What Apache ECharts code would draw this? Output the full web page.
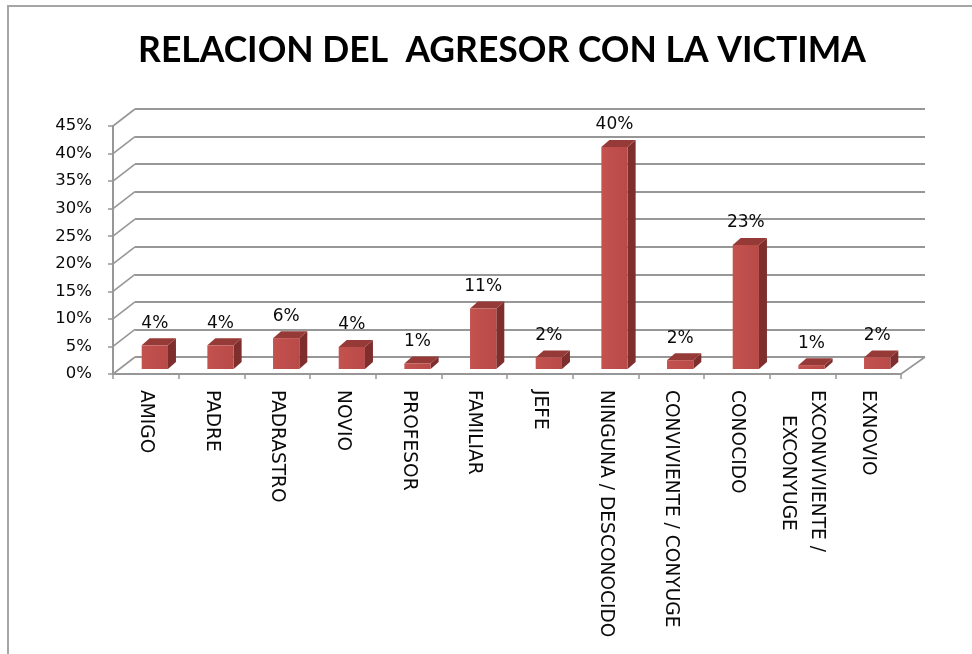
<!DOCTYPE html>
<html>
<head>
<meta charset="utf-8">
<script src="https://cdn.jsdelivr.net/npm/echarts@6/dist/echarts.min.js"></script>
<style>html,body{margin:0;padding:0;background:#fff}#c{width:972px;height:654px}</style>
</head>
<body>
<div id="c"></div>
<script>
var titleText = 'RELACION DEL  AGRESOR CON LA VICTIMA';
var categories = ['AMIGO','PADRE','PADRASTRO','NOVIO','PROFESOR','FAMILIAR','JEFE','NINGUNA / DESCONOCIDO','CONVIVIENTE / CONYUGE','CONOCIDO','EXCONVIVIENTE /\nEXCONYUGE','EXNOVIO'];
var values = [4.3, 4.3, 5.6, 4.0, 1.0, 11.0, 2.1, 40.3, 1.6, 22.5, 0.7, 2.1];
var yTicks = [0,5,10,15,20,25,30,35,40,45];

var chart = echarts.init(document.getElementById('c'));
var DX = 22, DY = -17;           // back wall offset
var FX = 9, FY = -5;             // bar front face offset
var BX = 8, BY = -7;             // bar depth
var gridLine = '#979797';

function wallItem(params, api) {
  var cs = params.coordSys;
  var v = api.value(0);
  var y = api.coord([0, v])[1];
  var x0 = cs.x;
  var children = [{
    type: 'line',
    shape: {x1: x0, y1: y, x2: x0 + DX, y2: y + DY},
    style: {stroke: gridLine, lineWidth: 1.6}
  }];
  if (params.dataIndex === 0) {
    var xr = cs.x + cs.width;
    children.push({
      type: 'line',
      shape: {x1: xr, y1: y, x2: xr + DX + 2, y2: y + DY},
      style: {stroke: gridLine, lineWidth: 1.6}
    });
  }
  return {type: 'group', children: children};
}

function barItem(params, api) {
  var i = api.value(0), v = api.value(1);
  var base = api.coord([i, 0]);
  var top = api.coord([i, v]);
  var band = api.size([1, 0])[0];
  var w = band * 0.4;
  var cx = base[0] + FX;
  var x1 = cx - w / 2, x2 = cx + w / 2;
  var yb = base[1] + FY, yt = top[1] + FY;
  return {
    type: 'group',
    children: [
      {type: 'polygon', shape: {points: [[x2, yt], [x2, yb], [x2 + BX, yb + BY], [x2 + BX, yt + BY]]},
        style: {fill: '#7e2f2d'}},
      {type: 'polygon', shape: {points: [[x1, yt], [x2, yt], [x2 + BX, yt + BY], [x1 + BX, yt + BY]]},
        style: {fill: '#963a37'}},
      {type: 'rect', shape: {x: x1, y: yt, width: w, height: yb - yt},
        style: {fill: new echarts.graphic.LinearGradient(0, 0, 1, 0, [
          {offset: 0, color: '#c4524f'}, {offset: 1, color: '#b84a47'}])}},
      {type: 'text', style: {
        text: Math.round(v) + '%', x: cx, y: yt - 22,
        align: 'center', verticalAlign: 'middle',
        fontFamily: 'DejaVu Sans', fontSize: 17, fill: '#0a0a0a'}}
    ]
  };
}

function catLabel(value) {
  var parts = value.split('\n');
  if (parts.length === 1) return '{a|' + value + '}';
  return '{a|' + parts[0] + '}\n{b|' + parts[1] + '}';
}

var option = {
  animation: false,
  backgroundColor: '#fff',
  title: {
    text: titleText,
    left: 497, top: 28, textAlign: 'center',
    textStyle: {fontFamily: 'Lato', fontWeight: 'bold', fontSize: 35.5, color: '#000'}
  },
  graphic: [{
    type: 'rect', shape: {x: 8, y: 6, width: 1000, height: 700},
    style: {fill: 'none', stroke: '#a5a5a5', lineWidth: 2}, silent: true, z: 0
  }],
  grid: [
    {left: 113, right: 71, top: 126, bottom: 280},
    {left: 135, right: 47, top: 109, bottom: 297}
  ],
  xAxis: [
    {type: 'category', gridIndex: 0, data: categories, boundaryGap: true,
      axisLine: {lineStyle: {color: gridLine, width: 2}},
      axisTick: {show: true, length: 5, lineStyle: {color: gridLine, width: 1.5}},
      axisLabel: {interval: 0, rotate: -90, margin: 16, color: '#0a0a0a',
        formatter: catLabel,
        rich: {
          a: {fontFamily: 'DejaVu Sans', fontSize: 18.6, color: '#0a0a0a', lineHeight: 29},
          b: {fontFamily: 'DejaVu Sans', fontSize: 18.6, color: '#0a0a0a', lineHeight: 29, padding: [0, 0, 0, 25]}
        }}},
    {type: 'category', gridIndex: 1, data: categories, show: false}
  ],
  yAxis: [
    {type: 'value', gridIndex: 0, min: 0, max: 45, interval: 5,
      axisLine: {show: true, lineStyle: {color: gridLine, width: 2}},
      axisTick: {show: true, length: 5, lineStyle: {color: gridLine, width: 1.5}},
      splitLine: {show: false},
      axisLabel: {formatter: '{value}%', margin: 21, fontFamily: 'DejaVu Sans', fontSize: 16.5, color: '#0a0a0a'}},
    {type: 'value', gridIndex: 1, min: 0, max: 45, interval: 5,
      axisLine: {show: false}, axisTick: {show: false}, axisLabel: {show: false},
      splitLine: {show: true, lineStyle: {color: gridLine, width: 1.8}}}
  ],
  series: [
    {type: 'custom', xAxisIndex: 0, yAxisIndex: 0, renderItem: wallItem,
      data: yTicks.map(function (t) { return [t]; }), encode: {y: 0}, silent: true, z: 1, clip: false},
    {type: 'custom', xAxisIndex: 0, yAxisIndex: 0, renderItem: barItem,
      data: values.map(function (v, i) { return [i, v]; }), encode: {x: 0, y: 1}, z: 5, clip: false}
  ]
};
chart.setOption(option);
</script>
</body>
</html>
